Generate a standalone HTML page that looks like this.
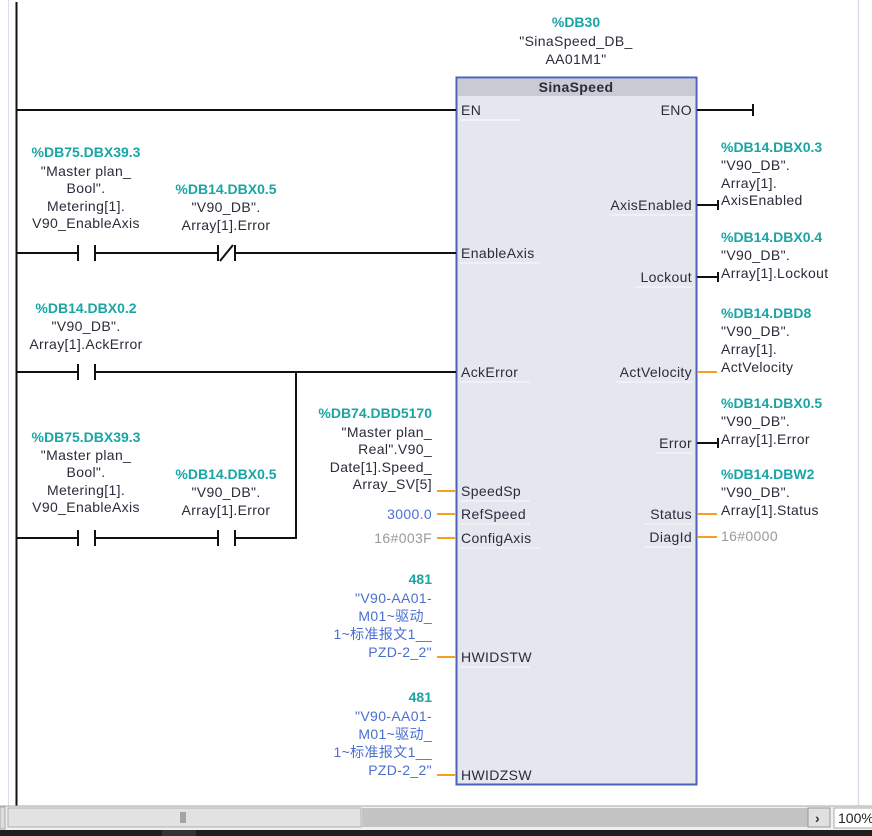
<!DOCTYPE html>
<html><head><meta charset="utf-8"><style>
html,body{margin:0;padding:0;background:#fff;}
svg{display:block;}
text{font-family:"Liberation Sans","Noto Sans CJK SC",sans-serif;font-size:14px;letter-spacing:0.35px;fill:#2b2b3a;}
.t{fill:#1aa5a5;font-weight:bold;letter-spacing:0;}
.c{text-anchor:middle;}
.r{text-anchor:end;}
.b{fill:#4a6fd0;}
.g{fill:#9a9a9a;}
</style></head><body>
<svg width="872" height="836" viewBox="0 0 872 836" xmlns="http://www.w3.org/2000/svg">
<rect width="872" height="836" fill="#fff"/>
<line x1="8.5" y1="0" x2="8.5" y2="806" stroke="#dcdcf0" stroke-width="1"/>
<line x1="858.5" y1="0" x2="858.5" y2="806" stroke="#dcdcf0" stroke-width="1.5"/>
<line x1="16.5" y1="2" x2="16.5" y2="806" stroke="#111" stroke-width="2"/>

<text class="t c" x="576" y="27">%DB30</text>
<text class="c" x="576" y="46">"SinaSpeed_DB_</text>
<text class="c" x="576" y="64">AA01M1"</text>

<rect x="456.5" y="77.5" width="240" height="707" fill="#e6e7ee" stroke="#4a62b8" stroke-width="2"/>
<rect x="458" y="79" width="237" height="17" fill="#c9cad3"/>
<text class="c" x="576" y="92" style="font-weight:bold">SinaSpeed</text>

<line x1="17" y1="110" x2="456" y2="110" stroke="#111" stroke-width="2"/>
<text x="461" y="115">EN</text>
<line x1="460" y1="120" x2="520" y2="120" stroke="#fff"/>
<text class="r" x="692" y="115">ENO</text>
<line x1="697" y1="110" x2="753" y2="110" stroke="#111" stroke-width="2"/>
<line x1="753" y1="104" x2="753" y2="116" stroke="#111" stroke-width="2"/>

<text class="t c" x="86" y="157">%DB75.DBX39.3</text>
<text class="c" x="86" y="176">"Master plan_</text>
<text class="c" x="86" y="193">Bool".</text>
<text class="c" x="86" y="211">Metering[1].</text>
<text class="c" x="86" y="228">V90_EnableAxis</text>
<text class="t c" x="226" y="194">%DB14.DBX0.5</text>
<text class="c" x="226" y="212">"V90_DB".</text>
<text class="c" x="226" y="230">Array[1].Error</text>
<g stroke="#111" stroke-width="2" fill="none">
<line x1="17" y1="253" x2="78" y2="253"/><line x1="78" y1="245" x2="78" y2="261"/>
<line x1="95" y1="245" x2="95" y2="261"/><line x1="95" y1="253" x2="218" y2="253"/>
<line x1="218" y1="245" x2="218" y2="261"/><line x1="235" y1="245" x2="235" y2="261"/>
<line x1="220" y1="261" x2="233" y2="245"/>
<line x1="235" y1="253" x2="456" y2="253"/>
</g>
<text x="461" y="258">EnableAxis</text>

<text class="t c" x="86" y="313">%DB14.DBX0.2</text>
<text class="c" x="86" y="331">"V90_DB".</text>
<text class="c" x="86" y="349">Array[1].AckError</text>
<g stroke="#111" stroke-width="2" fill="none">
<line x1="17" y1="372" x2="78" y2="372"/><line x1="78" y1="364" x2="78" y2="380"/>
<line x1="95" y1="364" x2="95" y2="380"/><line x1="95" y1="372" x2="456" y2="372"/>
<line x1="296" y1="371" x2="296" y2="539"/>
</g>
<text x="461" y="377">AckError</text>

<text class="t c" x="86" y="442">%DB75.DBX39.3</text>
<text class="c" x="86" y="460">"Master plan_</text>
<text class="c" x="86" y="477">Bool".</text>
<text class="c" x="86" y="495">Metering[1].</text>
<text class="c" x="86" y="512">V90_EnableAxis</text>
<text class="t c" x="226" y="479">%DB14.DBX0.5</text>
<text class="c" x="226" y="497">"V90_DB".</text>
<text class="c" x="226" y="515">Array[1].Error</text>
<g stroke="#111" stroke-width="2" fill="none">
<line x1="17" y1="538" x2="78" y2="538"/><line x1="78" y1="530" x2="78" y2="546"/>
<line x1="95" y1="530" x2="95" y2="546"/><line x1="95" y1="538" x2="218" y2="538"/>
<line x1="218" y1="530" x2="218" y2="546"/><line x1="235" y1="530" x2="235" y2="546"/>
<line x1="235" y1="538" x2="297" y2="538"/>
</g>

<text class="t r" x="432" y="418">%DB74.DBD5170</text>
<text class="r" x="432" y="437">"Master plan_</text>
<text class="r" x="432" y="454">Real".V90_</text>
<text class="r" x="432" y="472">Date[1].Speed_</text>
<text class="r" x="432" y="489">Array_SV[5]</text>
<g stroke="#f5a020" stroke-width="2">
<line x1="437" y1="491" x2="456" y2="491"/>
<line x1="437" y1="514" x2="456" y2="514"/>
<line x1="437" y1="538" x2="456" y2="538"/>
<line x1="437" y1="657" x2="456" y2="657"/>
<line x1="437" y1="775" x2="456" y2="775"/>
</g>
<text x="461" y="496">SpeedSp</text>
<text class="b r" x="432" y="519">3000.0</text>
<text x="461" y="519">RefSpeed</text>
<text class="g r" x="432" y="543">16#003F</text>
<text x="461" y="543">ConfigAxis</text>

<text class="t r" x="432" y="584">481</text>
<text class="b r" x="432" y="603">"V90-AA01-</text>
<text class="b r" x="432" y="621">M01~驱动_</text>
<text class="b r" x="432" y="639">1~标准报文1__</text>
<text class="b r" x="432" y="657">PZD-2_2"</text>
<text x="461" y="662">HWIDSTW</text>

<text class="t r" x="432" y="702">481</text>
<text class="b r" x="432" y="721">"V90-AA01-</text>
<text class="b r" x="432" y="739">M01~驱动_</text>
<text class="b r" x="432" y="757">1~标准报文1__</text>
<text class="b r" x="432" y="775">PZD-2_2"</text>
<text x="461" y="780">HWIDZSW</text>

<g stroke="#fafafa" stroke-width="1">
<line x1="460" y1="263" x2="540" y2="263"/>
<line x1="460" y1="382" x2="530" y2="382"/>
<line x1="460" y1="501" x2="530" y2="501"/>
<line x1="460" y1="524" x2="530" y2="524"/>
<line x1="460" y1="548" x2="540" y2="548"/>
<line x1="460" y1="667" x2="530" y2="667"/>
<line x1="610" y1="215" x2="693" y2="215"/>
<line x1="635" y1="287" x2="693" y2="287"/>
<line x1="615" y1="382" x2="693" y2="382"/>
<line x1="655" y1="453" x2="693" y2="453"/>
<line x1="645" y1="524" x2="693" y2="524"/>
<line x1="645" y1="547" x2="693" y2="547"/>
</g>

<text class="t" x="721" y="152">%DB14.DBX0.3</text>
<text x="721" y="170">"V90_DB".</text>
<text x="721" y="188">Array[1].</text>
<text x="721" y="205">AxisEnabled</text>
<text class="r" x="692" y="210">AxisEnabled</text>

<text class="t" x="721" y="242">%DB14.DBX0.4</text>
<text x="721" y="260">"V90_DB".</text>
<text x="721" y="278">Array[1].Lockout</text>
<text class="r" x="692" y="282">Lockout</text>

<text class="t" x="721" y="318">%DB14.DBD8</text>
<text x="721" y="336">"V90_DB".</text>
<text x="721" y="354">Array[1].</text>
<text x="721" y="372">ActVelocity</text>
<text class="r" x="692" y="377">ActVelocity</text>

<text class="t" x="721" y="408">%DB14.DBX0.5</text>
<text x="721" y="426">"V90_DB".</text>
<text x="721" y="444">Array[1].Error</text>
<text class="r" x="692" y="448">Error</text>

<text class="t" x="721" y="479">%DB14.DBW2</text>
<text x="721" y="497">"V90_DB".</text>
<text x="721" y="515">Array[1].Status</text>
<text class="r" x="692" y="519">Status</text>
<text class="g" x="721" y="541">16#0000</text>
<text class="r" x="692" y="542">DiagId</text>

<g stroke="#111" stroke-width="2">
<line x1="697" y1="205" x2="718" y2="205"/><line x1="718" y1="200" x2="718" y2="210"/>
<line x1="697" y1="277" x2="718" y2="277"/><line x1="718" y1="272" x2="718" y2="282"/>
<line x1="697" y1="443" x2="718" y2="443"/><line x1="718" y1="438" x2="718" y2="448"/>
</g>
<g stroke="#f5a020" stroke-width="2">
<line x1="697" y1="372" x2="717" y2="372"/>
<line x1="697" y1="514" x2="717" y2="514"/>
<line x1="697" y1="537" x2="717" y2="537"/>
</g>

<rect x="0" y="806" width="872" height="24" fill="#f0f0f0"/>
<line x1="0" y1="806" x2="872" y2="806" stroke="#a8a8a8"/>
<rect x="0" y="807" width="5" height="22" fill="#ddd" stroke="#aaa"/>
<rect x="8" y="808" width="353" height="19" fill="#e2e2e2" stroke="#b0b0b0"/>
<rect x="362" y="808" width="446" height="19" fill="#c4c4c4"/>
<line x1="181" y1="812" x2="181" y2="823" stroke="#666"/>
<line x1="183" y1="812" x2="183" y2="823" stroke="#666"/>
<line x1="185" y1="812" x2="185" y2="823" stroke="#666"/>
<rect x="808" y="808" width="22" height="19" fill="#e0e0e0" stroke="#999"/>
<text x="815" y="823" style="font-weight:bold;fill:#333">›</text>
<rect x="834" y="808" width="40" height="20" fill="#fff" stroke="#aaa"/>
<text x="838" y="823" style="fill:#222;letter-spacing:0">100%</text>
<rect x="0" y="830" width="872" height="6" fill="#1e1e1e"/>
<rect x="162" y="830" width="34" height="6" fill="#333"/>
</svg>
</body></html>
